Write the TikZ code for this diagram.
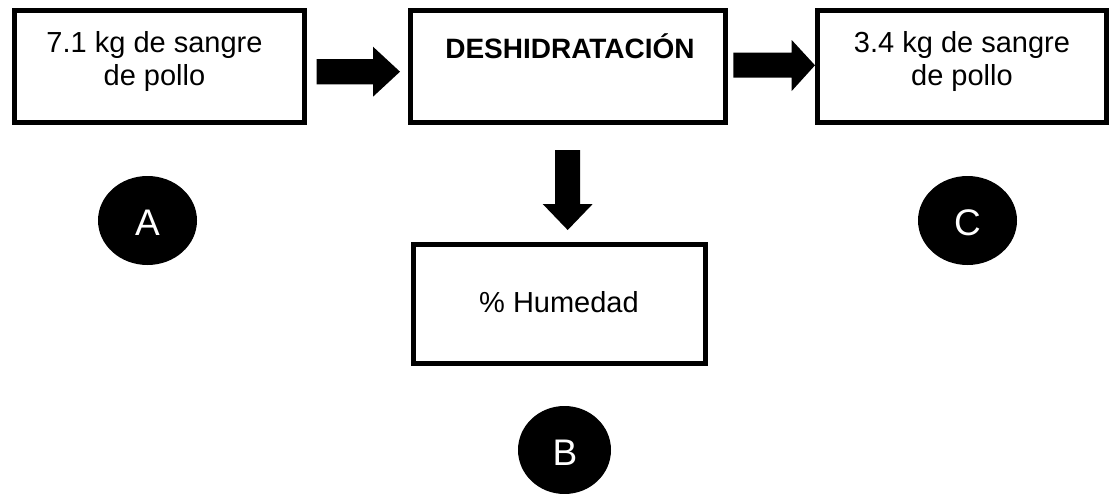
\documentclass[tikz,border=0pt]{standalone}
\usepackage{fontspec}
\setmainfont{Liberation Sans}
\usetikzlibrary{shapes.geometric}
\tikzset{
  procbox/.style={draw=black, line width=5pt, fill=white, inner sep=0pt},
  boxtext/.style={anchor=base, inner sep=0pt, align=center, font=\fontsize{29}{33}\selectfont},
  marker/.style={ellipse, fill=black, inner sep=0pt},
  markertext/.style={inner sep=0pt, text=white, font=\fontsize{37}{37}\selectfont},
  blockarrow/.style={fill=black, draw=none}
}
\begin{document}
\begin{tikzpicture}[x=1pt,y=-1pt]
\useasboundingbox (0,0) rectangle (1109,493);
% boxes
\node[procbox, minimum width=290pt, minimum height=112pt] (A) at (159.5,66.5) {};
\node[procbox, minimum width=315pt, minimum height=112pt] (D) at (568,66.5) {};
\node[procbox, minimum width=289pt, minimum height=112pt] (C) at (962,66.5) {};
\node[procbox, minimum width=292pt, minimum height=119pt] (H) at (559.5,304) {};
% texts
\node[boxtext] (tA1) at (154.5,52.7) {7.1 kg de sangre};
\node[boxtext] (tA2) at (154.5,85) {de pollo};
\node[boxtext, font=\fontsize{28}{33}\selectfont\bfseries] (tD) at (570,58) {DESHIDRATACIÓN};
\node[boxtext] (tC1) at (962,52) {3.4 kg de sangre};
\node[boxtext] (tC2) at (962,85) {de pollo};
\node[boxtext] (tH) at (559,312) {\% Humedad};
% markers
\node[marker, minimum width=99pt, minimum height=89pt] (mA) at (147.5,220.5) {};
\node[marker, minimum width=99pt, minimum height=89pt] (mC) at (967.5,220.5) {};
\node[marker, minimum width=93pt, minimum height=88pt] (mB) at (564.5,450) {};
\node[markertext] (lA) at (147.5,222.5) {A};
\node[markertext] (lC) at (967.5,222.5) {C};
\node[markertext] (lB) at (565,452.5) {B};
% block arrows
\fill[blockarrow] (316.7,59) -- (373,59) -- (373,46.7) -- (400,71.7) -- (373,96.7) -- (373,84.3) -- (316.7,84.3) -- cycle;
\fill[blockarrow] (733.3,52.7) -- (791.7,52.7) -- (791.7,40) -- (815,65.3) -- (791.7,91) -- (791.7,77.7) -- (733.3,77.7) -- cycle;
\fill[blockarrow] (555,150) -- (580,150) -- (580,204) -- (592.7,204) -- (567.7,230) -- (542.7,204) -- (555,204) -- cycle;
\end{tikzpicture}
\end{document}
